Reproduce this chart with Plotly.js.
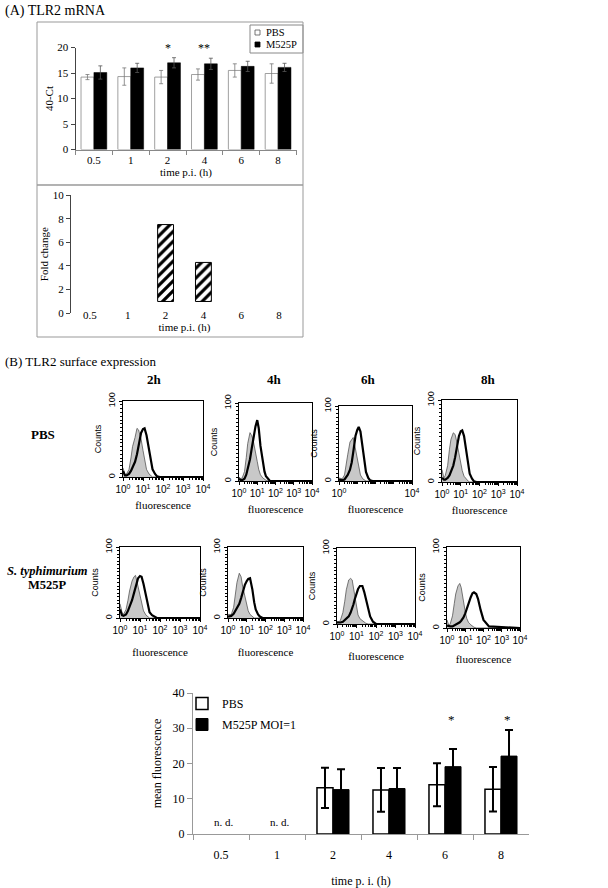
<!DOCTYPE html>
<html><head><meta charset="utf-8">
<script src="https://cdn.plot.ly/plotly-3.0.1.min.js"></script>
<style>html,body{margin:0;padding:0;background:#fff}#chart{width:608px;height:888px}</style>
</head><body><div id="chart"></div>
<script>
// ---------------- DATA ----------------
const timeCats = ['0.5', '1', '2', '4', '6', '8'];

// (A) TLR2 mRNA, 40-Ct
const ctPBS = [14.2, 14.3, 14.2, 14.7, 15.5, 14.9];
const ctPBSErr = [0.5, 1.7, 1.3, 1.1, 1.3, 1.9];
const ctM525P = [15.1, 16.0, 17.0, 16.8, 16.3, 16.1];
const ctM525PErr = [1.3, 0.9, 1.0, 1.1, 1.0, 0.8];
const ctSig = ['', '', '*', '**', '', ''];
const ctLegendNames = ['PBS', 'M525P'];

// (A) fold change
const foldChange = [null, null, 7.5, 4.3, null, null];
const foldBaseline = 1;

// (B) flow cytometry histograms
const histTimes = ['2h', '4h', '6h', '8h'];
const histChannel = [1, 1.26, 1.5, 2, 2.5, 3, 4, 5, 6, 7, 8, 10, 12, 15, 20, 25, 30, 40, 50, 70, 100, 200, 10000];
const isoPBS2h = [12, 3, 4, 10, 25, 40, 52, 64, 62, 55, 50, 35, 22, 10, 4, 1, 0, 0, 0, 0, 0, 0, 0];
const tlrPBS2h = [8, 2, 2, 4, 8, 12, 20, 30, 42, 52, 58, 63, 64, 55, 35, 18, 10, 4, 1, 0, 0, 0, 0];
const isoPBS4h = [5, 3, 4, 12, 30, 48, 62, 58, 52, 45, 38, 25, 15, 8, 4, 2, 1, 0, 0, 0, 0, 0, 0];
const tlrPBS4h = [3, 1, 1, 3, 8, 15, 28, 42, 55, 65, 70, 78, 68, 45, 25, 12, 6, 2, 0, 0, 0, 0, 0];
const isoPBS6h = [4, 3, 3, 8, 20, 35, 52, 55, 58, 50, 42, 30, 18, 8, 3, 1, 0, 0, 0, 0, 0, 0, 0];
const tlrPBS6h = [2, 1, 1, 2, 5, 8, 15, 25, 38, 50, 60, 68, 72, 66, 45, 25, 12, 4, 1, 0, 0, 0, 0];
const isoPBS8h = [15, 5, 8, 20, 40, 52, 60, 58, 50, 42, 35, 22, 14, 7, 3, 1, 0, 0, 0, 0, 0, 0, 0];
const tlrPBS8h = [5, 3, 3, 5, 8, 12, 20, 30, 40, 50, 56, 62, 63, 56, 38, 20, 10, 4, 1, 0, 0, 0, 0];
const isoM525P2h = [20, 8, 5, 12, 25, 38, 52, 58, 60, 52, 45, 32, 20, 10, 4, 1, 0, 0, 0, 0, 0, 0, 0];
const tlrM525P2h = [12, 4, 3, 5, 10, 15, 25, 35, 45, 52, 56, 59, 58, 48, 30, 15, 8, 4, 2, 0, 0, 0, 0];
const isoM525P4h = [5, 5, 5, 15, 35, 50, 63, 58, 45, 38, 30, 18, 10, 5, 2, 0, 0, 0, 0, 0, 0, 0, 0];
const tlrM525P4h = [2, 2, 3, 6, 10, 14, 20, 28, 35, 42, 47, 52, 55, 56, 40, 22, 12, 5, 2, 0, 0, 0, 0];
const isoM525P6h = [3, 3, 5, 15, 30, 45, 58, 60, 58, 48, 38, 22, 12, 7, 4, 2, 1, 0, 0, 0, 0, 0, 0];
const tlrM525P6h = [2, 2, 2, 3, 5, 7, 10, 15, 20, 26, 32, 40, 46, 50, 50, 42, 33, 20, 10, 3, 0, 0, 0];
const isoM525P8h = [10, 3, 5, 15, 30, 42, 52, 55, 50, 40, 32, 20, 12, 7, 4, 2, 1, 0, 0, 0, 0, 0, 0];
const tlrM525P8h = [3, 2, 2, 2, 3, 4, 5, 7, 9, 11, 13, 18, 24, 30, 38, 43, 44, 42, 36, 22, 10, 2, 0];
const decadeVals = [1, 10, 100, 1000, 10000];
const decadeText = ['10<sup>0</sup>', '10<sup>1</sup>', '10<sup>2</sup>', '10<sup>3</sup>', '10<sup>4</sup>'];

// (B) mean fluorescence
const mfiPBS = [null, null, 13.1, 12.5, 14.0, 12.7];
const mfiPBSErr = [null, null, 5.7, 6.2, 6.1, 6.3];
const mfiM525P = [null, null, 12.6, 12.9, 19.1, 22.1];
const mfiM525PErr = [null, null, 5.8, 5.8, 5.0, 7.4];
const mfiSig = ['', '', '', '', '*', '*'];
const mfiNotDone = ['n. d.', 'n. d.', '', '', '', ''];

// ---------------- LAYOUT HELPERS ----------------
const W = 608, H = 888;
const fx = px => px / W;
const fy = py => 1 - py / H;
const serif = 'Liberation Serif, Times New Roman, serif';
const sans = 'Liberation Sans, Arial, sans-serif';

const traces = [];
const annotations = [];
const shapes = [];
const layout = {
  width: W, height: H, margin: {l: 0, r: 0, t: 0, b: 0},
  paper_bgcolor: 'white', plot_bgcolor: 'rgba(0,0,0,0)',
  font: {family: serif, color: '#000', size: 11},
  hovermode: false, showlegend: true
};

// ---------- (A) top: 40-Ct ----------
traces.push({type: 'bar', x: timeCats, y: ctPBS, xaxis: 'x', yaxis: 'y', width: 0.35, offset: -0.35, name: ctLegendNames[0],
  marker: {color: 'white', line: {color: '#888', width: 0.8}},
  error_y: {type: 'data', array: ctPBSErr, color: '#777', thickness: 0.8, width: 2}, showlegend: false});
traces.push({type: 'bar', x: timeCats, y: ctM525P, xaxis: 'x', yaxis: 'y', width: 0.35, offset: 0, name: ctLegendNames[1],
  marker: {color: 'black', line: {color: 'black', width: 0.5}},
  error_y: {type: 'data', array: ctM525PErr, color: '#555', thickness: 0.8, width: 2}, showlegend: false});

layout.xaxis = {domain: [fx(75.5), fx(296.5)], anchor: 'y', type: 'category', categoryorder: 'array', categoryarray: timeCats,
  range: [-0.5, 5.5], showline: true, linecolor: '#888', linewidth: 1, ticks: 'outside', tickson: 'boundaries',
  ticklen: 4, tickcolor: '#888', showgrid: false, zeroline: false, tickfont: {size: 11},
  title: {text: 'time p.i. (h)', font: {size: 11}, standoff: 0}};
layout.yaxis = {domain: [fy(149.5), fy(47.5)], anchor: 'x', range: [0, 20], dtick: 5, showline: true, linecolor: '#444',
  ticks: 'outside', ticklen: 4, tickcolor: '#444', showgrid: false, zeroline: false, tickfont: {size: 11},
  title: {text: '40-Ct', font: {size: 11}, standoff: 1}};
ctSig.forEach((s, i) => {
  if (s) annotations.push({xref: 'x', yref: 'y', x: i, y: 20, text: s, showarrow: false,
    yanchor: 'middle', yshift: -1, font: {size: 12}});
});
// compact legend box for the 40-Ct chart (legend key drawn as in the original)
shapes.push({type: 'rect', xref: 'paper', yref: 'paper', x0: fx(250), x1: fx(303), y0: fy(53), y1: fy(25), line: {color: '#888', width: 1}, fillcolor: 'white'});
shapes.push({type: 'rect', xref: 'paper', yref: 'paper', x0: fx(255), x1: fx(260), y0: fy(35), y1: fy(30), line: {color: '#555', width: 0.8}, fillcolor: 'white'});
shapes.push({type: 'rect', xref: 'paper', yref: 'paper', x0: fx(255), x1: fx(260), y0: fy(47), y1: fy(42), line: {color: '#000', width: 0.8}, fillcolor: 'black'});
annotations.push({xref: 'paper', yref: 'paper', x: fx(264), y: fy(32.5), text: ctLegendNames[0], showarrow: false, xanchor: 'left', yanchor: 'middle', font: {size: 10.5}});
annotations.push({xref: 'paper', yref: 'paper', x: fx(264), y: fy(44.5), text: ctLegendNames[1], showarrow: false, xanchor: 'left', yanchor: 'middle', font: {size: 10.5}});

// ---------- (A) bottom: fold change ----------
traces.push({type: 'bar', x: timeCats, y: foldChange.map(v => v == null ? null : v - foldBaseline), base: foldBaseline,
  xaxis: 'x2', yaxis: 'y2', width: 0.42, offset: -0.21, showlegend: false,
  marker: {color: 'white', line: {color: '#000', width: 1},
    pattern: {shape: '/', fgcolor: '#000', bgcolor: '#fff', size: 7, solidity: 0.45}}});
layout.xaxis2 = {domain: [fx(71), fx(298)], anchor: 'y2', type: 'category', categoryorder: 'array', categoryarray: timeCats,
  range: [-0.5, 5.5], showline: false, ticks: '', showgrid: false, zeroline: false, tickfont: {size: 11},
  ticklabelstandoff: -6, title: {text: 'time p.i. (h)', font: {size: 11}, standoff: 0}};
layout.yaxis2 = {domain: [fy(313.3), fy(195)], anchor: 'x2', range: [0, 10], dtick: 2, showline: true, linecolor: '#444',
  ticks: 'outside', ticklen: 4, tickcolor: '#444', showgrid: false, zeroline: false, tickfont: {size: 11},
  title: {text: 'Fold change', font: {size: 11}, standoff: 1}};
const y2d = layout.yaxis2.domain;
layout.xaxis3 = {overlaying: 'x2', anchor: 'free',
  position: y2d[0] + (foldBaseline - layout.yaxis2.range[0]) / (layout.yaxis2.range[1] - layout.yaxis2.range[0]) * (y2d[1] - y2d[0]),
  range: [0, 6], tickmode: 'array', tickvals: [0, 1, 2, 3, 4, 5, 6], ticks: 'outside', ticklen: 4, tickcolor: '#666',
  showticklabels: false, showline: true, linecolor: '#666', linewidth: 1, showgrid: false, zeroline: false};

// panel A frame (decoration)
shapes.push({type: 'rect', xref: 'paper', yref: 'paper', x0: fx(37), x1: fx(303), y0: fy(185), y1: fy(22), line: {color: '#999', width: 1}});
shapes.push({type: 'rect', xref: 'paper', yref: 'paper', x0: fx(37), x1: fx(303), y0: fy(337), y1: fy(185), line: {color: '#999', width: 1}});

// ---------- (B) histograms ----------
const histIso = [isoPBS2h, isoPBS4h, isoPBS6h, isoPBS8h, isoM525P2h, isoM525P4h, isoM525P6h, isoM525P8h];
const histTlr = [tlrPBS2h, tlrPBS4h, tlrPBS6h, tlrPBS8h, tlrM525P2h, tlrM525P4h, tlrM525P6h, tlrM525P8h];
const histPanels = [
  {x: [123, 203], y: [401, 477], so: 7}, {x: [239, 312], y: [403, 481], so: 7}, {x: [339, 412], y: [406, 481], so: 7, sparse: true}, {x: [442, 517], y: [400, 482], so: 7},
  {x: [120, 200], y: [547, 618], so: 13}, {x: [228, 303], y: [547, 618], so: 13}, {x: [337, 415], y: [548, 624], so: 11}, {x: [447, 520], y: [547, 628], so: 10}
];
histPanels.forEach((p, i) => {
  const n = 4 + i;
  traces.push({type: 'scatter', mode: 'lines', x: histChannel, y: histIso[i], xaxis: 'x' + n, yaxis: 'y' + n,
    fill: 'tozeroy', fillcolor: '#c8c8c8', line: {color: '#444', width: 0.7}, showlegend: false});
  traces.push({type: 'scatter', mode: 'lines', x: histChannel, y: histTlr[i], xaxis: 'x' + n, yaxis: 'y' + n,
    line: {color: '#000', width: 2.2}, showlegend: false});
  const tv = p.sparse ? [decadeVals[0], decadeVals[4]] : decadeVals;
  const tt = p.sparse ? [decadeText[0], decadeText[4]] : decadeText;
  layout['xaxis' + n] = {type: 'log', range: [0, 4], domain: [fx(p.x[0]), fx(p.x[1])], anchor: 'y' + n,
    showline: true, mirror: true, linecolor: '#000', linewidth: 1, showgrid: false, zeroline: false,
    ticks: 'outside', ticklen: 3, tickcolor: '#000', tickmode: 'array', tickvals: tv, ticktext: tt,
    tickfont: {family: sans, size: 10},
    minor: {ticks: 'outside', ticklen: 2, dtick: 'D1', tickcolor: '#000'},
    title: {text: 'fluorescence', font: {family: serif, size: 11}, standoff: p.so}};
  layout['yaxis' + n] = {range: [0, 100], domain: [fy(p.y[1]), fy(p.y[0])], anchor: 'x' + n,
    showline: true, mirror: true, linecolor: '#000', linewidth: 1, showgrid: false, zeroline: false,
    ticks: 'outside', ticklen: 3, tickcolor: '#000', tickmode: 'array', tickvals: [0, 100], tickangle: -90,
    tickfont: {family: sans, size: 9},
    minor: {ticks: 'outside', ticklen: 2, dtick: 5, tickcolor: '#000'},
    title: {text: 'Counts', font: {family: sans, size: 9}, standoff: 4}};
});
const colX = [155, 274, 368, 488];
histTimes.forEach((t, i) => annotations.push({xref: 'paper', yref: 'paper', x: fx(colX[i]), y: fy(379), text: '<b>' + t + '</b>',
  showarrow: false, xanchor: 'center', yanchor: 'middle', font: {size: 13}}));
annotations.push({xref: 'paper', yref: 'paper', x: fx(43), y: fy(434), text: '<b>PBS</b>', showarrow: false, xanchor: 'center', yanchor: 'middle', font: {size: 13}});
annotations.push({xref: 'paper', yref: 'paper', x: fx(47), y: fy(571), text: '<b><i>S. typhimurium</i></b>', showarrow: false, xanchor: 'center', yanchor: 'middle', font: {size: 12.5}});
annotations.push({xref: 'paper', yref: 'paper', x: fx(47), y: fy(585), text: '<b>M525P</b>', showarrow: false, xanchor: 'center', yanchor: 'middle', font: {size: 12.5}});

// ---------- (B) mean fluorescence ----------
traces.push({type: 'bar', x: timeCats, y: mfiPBS, xaxis: 'x12', yaxis: 'y12', width: 0.286, offset: -0.286, name: 'PBS',
  legend: 'legend2', legendgroup: 'ba', marker: {color: 'white', line: {color: '#000', width: 1.5}},
  error_y: {type: 'data', array: mfiPBSErr, color: '#000', thickness: 2, width: 4}});
traces.push({type: 'bar', x: timeCats, y: mfiM525P, xaxis: 'x12', yaxis: 'y12', width: 0.286, offset: 0, name: 'M525P MOI=1',
  legend: 'legend2', legendgroup: 'bb', marker: {color: 'black', line: {color: '#000', width: 1}},
  error_y: {type: 'data', array: mfiM525PErr, color: '#000', thickness: 2, width: 4}});
layout.xaxis12 = {domain: [fx(193), fx(529)], anchor: 'y12', type: 'category', categoryorder: 'array', categoryarray: timeCats,
  range: [-0.5, 5.5], showline: true, linecolor: '#999', linewidth: 1, ticks: 'outside', tickson: 'boundaries',
  ticklen: 5, tickcolor: '#999', showgrid: false, zeroline: false, tickfont: {size: 12}, ticklabelstandoff: 10,
  title: {text: 'time p. i. (h)', font: {size: 12}, standoff: 15}};
layout.yaxis12 = {domain: [fy(834), fy(693)], anchor: 'x12', range: [0, 40], dtick: 10, showline: true, linecolor: '#999',
  ticks: 'outside', ticklen: 5, tickcolor: '#999', showgrid: false, zeroline: false, tickfont: {size: 12},
  title: {text: 'mean fluorescence', font: {size: 12}, standoff: 8}};
layout.legend2 = {x: fx(182), xanchor: 'left', y: fy(689), yanchor: 'top', bgcolor: 'rgba(0,0,0,0)', borderwidth: 0,
  font: {size: 12}, itemwidth: 30, tracegroupgap: 2, traceorder: 'grouped'};
mfiSig.forEach((s, i) => {
  if (s) annotations.push({xref: 'x12', yref: 'y12', x: i, y: 32.5, text: s, showarrow: false, xshift: 6,
    yanchor: 'middle', font: {size: 13}});
});
mfiNotDone.forEach((s, i) => {
  if (s) annotations.push({xref: 'x12', yref: 'y12', x: i, y: 3.4, text: s, showarrow: false, xshift: 3,
    yanchor: 'middle', font: {size: 11}});
});

// section titles
annotations.push({xref: 'paper', yref: 'paper', x: fx(3), y: fy(11), text: '(A) TLR2 mRNA', showarrow: false,
  xanchor: 'left', yanchor: 'middle', font: {size: 14}});
annotations.push({xref: 'paper', yref: 'paper', x: fx(3), y: fy(362), text: '(B) TLR2 surface expression', showarrow: false,
  xanchor: 'left', yanchor: 'middle', font: {size: 13}});

layout.annotations = annotations;
layout.shapes = shapes;

Plotly.newPlot('chart', traces, layout, {staticPlot: true, displayModeBar: false});
</script>
</body></html>
